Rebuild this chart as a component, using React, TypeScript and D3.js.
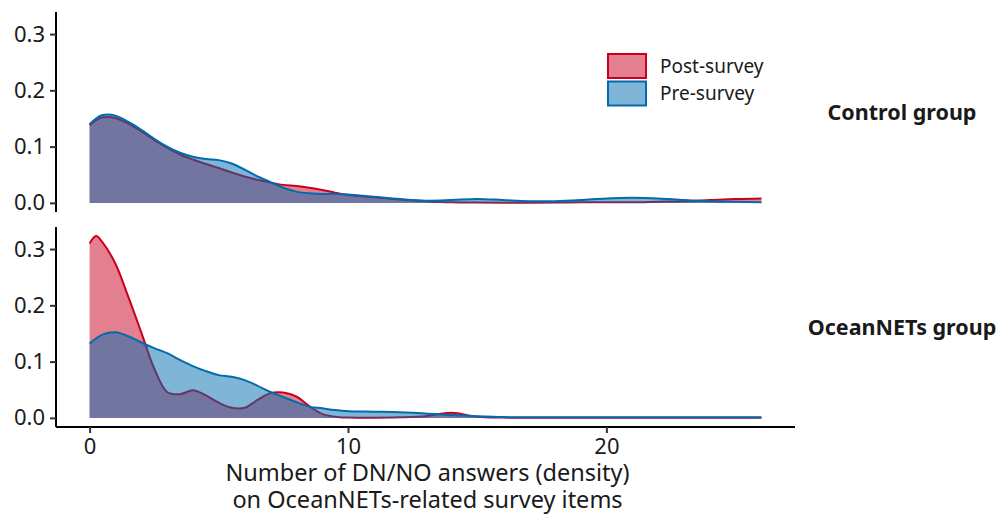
import React, { useEffect, useRef } from "react";
import * as d3 from "d3";

const xGrid = [
  0, 0.25, 0.5, 1, 1.5, 2, 2.5, 3, 3.5, 4, 4.5, 5, 5.5, 6, 6.5, 7, 7.5, 8, 8.5, 9, 9.5, 10,
  11, 12, 13, 14, 15, 16, 17, 18, 19, 20, 21, 22, 23, 24, 25, 26,
];

const groups = ["Control group", "OceanNETs group"];
const surveys = ["Post-survey", "Pre-survey"];

const controlPost = [
  0.138, 0.147, 0.152, 0.151, 0.141, 0.127, 0.112, 0.098, 0.086, 0.077, 0.069, 0.062, 0.054,
  0.047, 0.041, 0.036, 0.032, 0.03, 0.027, 0.023, 0.018, 0.014,
  0.01, 0.006, 0.003, 0.001, 0.0005, 0.0003, 0.0003, 0.0005, 0.001, 0.001, 0.001, 0.002, 0.003,
  0.005, 0.007, 0.008,
];
const controlPre = [
  0.14, 0.15, 0.156, 0.155, 0.144, 0.13, 0.114, 0.1, 0.089, 0.082, 0.078, 0.076, 0.07, 0.059,
  0.047, 0.037, 0.027, 0.02, 0.017, 0.016, 0.016, 0.015,
  0.011, 0.007, 0.004, 0.005, 0.007, 0.005, 0.003, 0.003, 0.005, 0.008, 0.009, 0.008, 0.005,
  0.003, 0.002, 0.001,
];
const oceanPost = [
  0.31, 0.323, 0.312, 0.274, 0.215, 0.152, 0.088, 0.046, 0.042, 0.049, 0.04, 0.027, 0.018,
  0.018, 0.032, 0.044, 0.045, 0.038, 0.021, 0.007, 0.002, 0.0005,
  0.0003, 0.001, 0.003, 0.009, 0.002, 0.0005, 0.0003, 0.0003, 0.0003, 0.0003, 0.0003, 0.0003,
  0.0003, 0.0003, 0.0003, 0.0003,
];
const oceanPre = [
  0.132, 0.141, 0.148, 0.152, 0.145, 0.134, 0.124, 0.115, 0.103, 0.092, 0.083, 0.076, 0.073,
  0.067, 0.057, 0.046, 0.037, 0.028, 0.02, 0.017, 0.014, 0.012,
  0.011, 0.01, 0.008, 0.005, 0.003, 0.0015, 0.001, 0.001, 0.001, 0.001, 0.001, 0.001, 0.001,
  0.001, 0.001, 0.001,
];

const xTicks = [0, 10, 20];
const yTicks = [0, 0.1, 0.2, 0.3];

const colors = ["#C8001D", "#006BAF"];

const App: React.FC = () => {
  const svgRef = useRef<SVGSVGElement | null>(null);
  const width = 1000;
  const height = 515;

  useEffect(() => {
    const svg = d3.select(svgRef.current);
    svg.selectAll("*").remove();
    const font = "'Noto Sans', sans-serif";

    const left = 56;
    const right = 795;
    const panels = [
      { top: 12, bottom: 212, series: [controlPost, controlPre] },
      { top: 227, bottom: 427, series: [oceanPost, oceanPre] },
    ];

    const x = d3.scaleLinear().domain([-1.3, 27.3]).range([left, right]);
    const curve = d3.curveCatmullRom.alpha(0.5);

    panels.forEach((p, i) => {
      const y = d3.scaleLinear().domain([-0.0162, 0.3392]).range([p.bottom, p.top]);
      const g = svg.append("g");

      p.series.forEach((vals, k) => {
        const pts = xGrid.map((xv, j) => [xv, vals[j]] as [number, number]);
        const area = d3
          .area<[number, number]>()
          .x((d) => x(d[0]))
          .y0(y(0))
          .y1((d) => Math.min(y(0), y(d[1])))
          .curve(curve);
        const line = d3
          .line<[number, number]>()
          .x((d) => x(d[0]))
          .y((d) => y(d[1]))
          .curve(curve);
        g.append("path")
          .attr("d", area(pts))
          .attr("fill", colors[k])
          .attr("fill-opacity", 0.5);
        g.append("path")
          .attr("d", line(pts))
          .attr("fill", "none")
          .attr("stroke", colors[k])
          .attr("stroke-width", 2);
      });

      const yAxis = g
        .append("g")
        .attr("transform", `translate(${left},0)`)
        .call(d3.axisLeft(y).tickValues(yTicks).tickFormat(d3.format(".1f")).tickSize(6).tickPadding(5));
      yAxis.select(".domain").attr("stroke", "#000").attr("stroke-width", 2).attr("d", `M0,${p.top}V${p.bottom}`);
      yAxis.selectAll(".tick line").attr("stroke", "#333").attr("stroke-width", 2);
      yAxis
        .selectAll(".tick text")
        .attr("fill", "#1a1a1a")
        .attr("font-family", font)
        .attr("font-size", 22);

      svg
        .append("text")
        .attr("x", 902)
        .attr("y", (p.top + p.bottom) / 2)
        .attr("dy", "0.35em")
        .attr("text-anchor", "middle")
        .attr("font-family", font)
        .attr("font-weight", "bold")
        .attr("font-size", 21.5)
        .attr("fill", "#1a1a1a")
        .text(groups[i]);
    });

    const xAxis = svg
      .append("g")
      .attr("transform", `translate(0,${panels[1].bottom})`)
      .call(d3.axisBottom(x).tickValues(xTicks).tickFormat(d3.format("d")).tickSize(6).tickPadding(5));
    xAxis.select(".domain").attr("stroke", "#000").attr("stroke-width", 2).attr("d", `M${left},0H${right}`);
    xAxis.selectAll(".tick line").attr("stroke", "#333").attr("stroke-width", 2);
    xAxis
      .selectAll(".tick text")
      .attr("fill", "#1a1a1a")
      .attr("font-family", font)
      .attr("font-size", 22);

    const title = svg
      .append("text")
      .attr("text-anchor", "middle")
      .attr("font-family", font)
      .attr("font-size", 23.5)
      .attr("fill", "#1a1a1a");
    ["Number of DN/NO answers (density)", "on OceanNETs-related survey items"].forEach((t, i) => {
      title
        .append("tspan")
        .attr("x", (left + right) / 2 + 2)
        .attr("y", 481 + i * 27)
        .text(t);
    });

    // legend
    const legend = svg.append("g").attr("transform", "translate(608,54)");
    surveys.forEach((s, k) => {
      legend
        .append("rect")
        .attr("x", 0)
        .attr("y", k * 27.5)
        .attr("width", 38)
        .attr("height", 24)
        .attr("fill", colors[k])
        .attr("fill-opacity", 0.5)
        .attr("stroke", colors[k])
        .attr("stroke-width", 2);
      legend
        .append("text")
        .attr("x", 52)
        .attr("y", k * 27.5 + 12)
        .attr("dy", "0.35em")
        .attr("font-family", font)
        .attr("font-size", 19)
        .attr("fill", "#1a1a1a")
        .text(s);
    });
  }, []);

  return (
    <svg
      ref={svgRef}
      width={width}
      height={height}
      style={{ position: "absolute", left: 0, top: 0, background: "#fff" }}
    ></svg>
  );
};

export default App;
